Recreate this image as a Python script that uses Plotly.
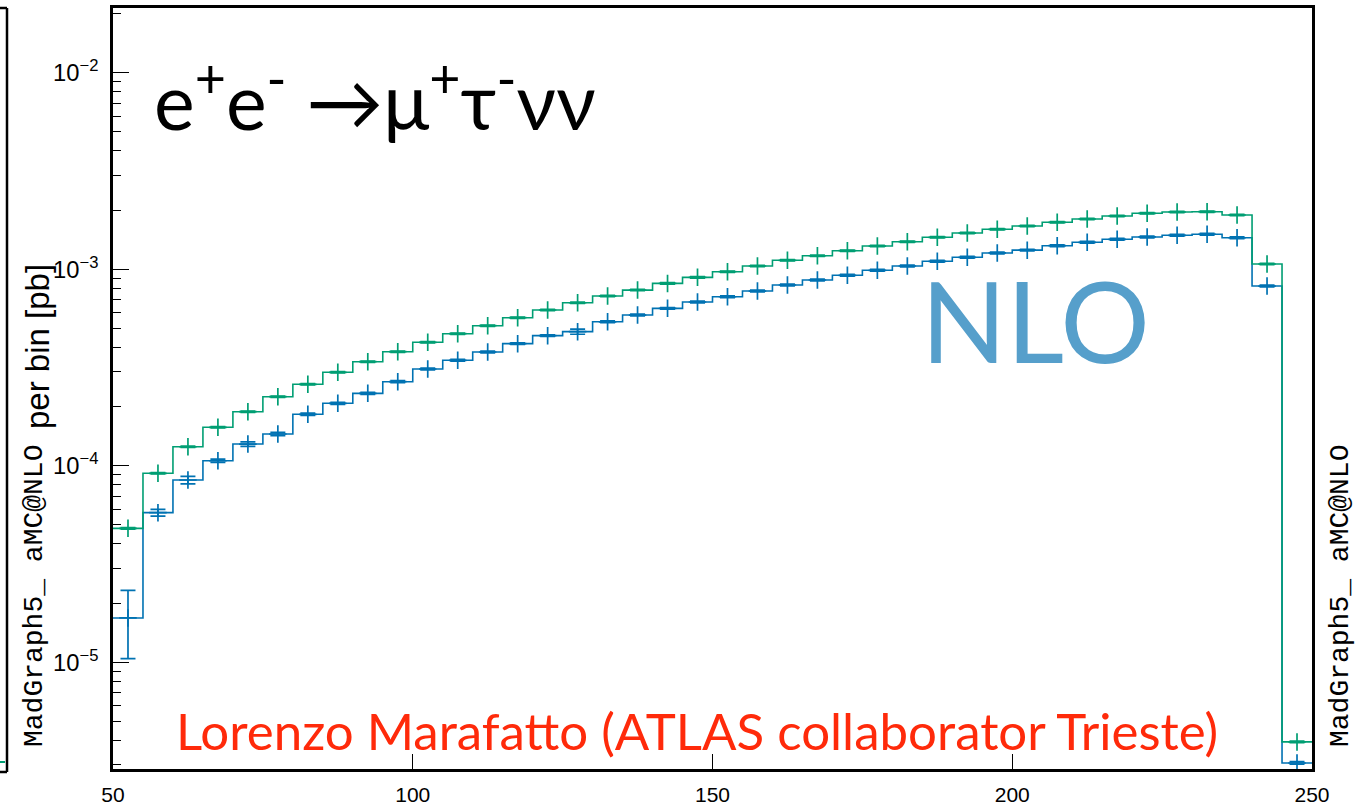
import plotly.graph_objects as go

# Histogram binning (GeV)
bin_edges = list(range(50, 255, 5))

# Cross section per bin [pb], two samples
green_vals = [4.80e-5, 9.15e-5, 1.249e-4, 1.568e-4, 1.883e-4, 2.245e-4, 2.596e-4, 2.987e-4,
              3.382e-4, 3.803e-4, 4.246e-4, 4.696e-4, 5.159e-4, 5.665e-4, 6.20e-4, 6.75e-4,
              7.30e-4, 7.83e-4, 8.47e-4, 9.09e-4, 9.71e-4, 1.038e-3, 1.110e-3, 1.171e-3,
              1.242e-3, 1.312e-3, 1.380e-3, 1.453e-3, 1.528e-3, 1.596e-3, 1.659e-3, 1.733e-3,
              1.801e-3, 1.865e-3, 1.925e-3, 1.955e-3, 1.962e-3, 1.887e-3, 1.063e-3, 3.93e-6]
blue_vals = [1.68e-5, 5.77e-5, 8.46e-5, 1.060e-4, 1.289e-4, 1.450e-4, 1.826e-4, 2.078e-4,
             2.335e-4, 2.676e-4, 3.105e-4, 3.438e-4, 3.79e-4, 4.18e-4, 4.59e-4, 4.81e-4,
             5.40e-4, 5.845e-4, 6.32e-4, 6.81e-4, 7.24e-4, 7.74e-4, 8.31e-4, 8.81e-4,
             9.31e-4, 9.87e-4, 1.038e-3, 1.097e-3, 1.150e-3, 1.21e-3, 1.25e-3, 1.317e-3,
             1.371e-3, 1.420e-3, 1.459e-3, 1.488e-3, 1.506e-3, 1.446e-3, 8.21e-4, 3.07e-6]

# Relative statistical uncertainties [%]
green_err_pct = [1.0, 0.8, 0.8, 0.8, 0.8, 0.8, 0.8, 0.8, 0.8, 0.8,
                 0.8, 0.8, 0.8, 0.8, 0.8, 0.8, 0.8, 0.8, 0.8, 0.8,
                 0.8, 0.8, 0.8, 0.8, 0.8, 0.8, 0.8, 0.8, 0.8, 0.8,
                 0.8, 0.8, 0.8, 0.8, 0.8, 0.8, 0.8, 0.8, 0.8, 1.0]
blue_err_pct = [38.0, 3.9, 4.4, 1.8, 2.6, 1.8, 1.4, 1.2, 1.2, 1.2,
                1.0, 1.0, 1.0, 1.0, 1.0, 3.0, 1.0, 1.0, 1.0, 1.0,
                1.0, 1.0, 1.0, 1.0, 1.0, 1.0, 1.0, 1.0, 1.0, 1.0,
                1.0, 1.0, 1.0, 1.0, 1.0, 1.0, 1.0, 1.0, 1.0, 1.5]

x_tick_vals = [50, 100, 150, 200, 250]

GREEN = "#009E73"
BLUE = "#0072B2"
SANS = "Liberation Sans, Arial, sans-serif"

W, H = 1358, 809
L, R, T, B = 113, 46, 8, 40
PW, PH = W - L - R, H - T - B


def px(xp):
    return (xp - L) / PW


def py(yp):
    return (H - B - yp) / PH


centers = [(lo + hi) / 2 for lo, hi in zip(bin_edges[:-1], bin_edges[1:])]

fig = go.Figure()


def add_hist(vals, errs, color):
    fig.add_trace(go.Scatter(
        x=bin_edges, y=vals + [vals[-1]], mode="lines", line_shape="hv",
        line=dict(color=color, width=1.6), hoverinfo="skip", showlegend=False))
    fig.add_trace(go.Scatter(
        x=centers, y=vals, mode="markers",
        marker=dict(symbol="cross-thin", size=12.5, line=dict(color=color, width=1.7)),
        error_y=dict(type="data", array=[v * e / 100 for v, e in zip(vals, errs)],
                     color=color, thickness=1.7, width=7.5),
        showlegend=False))


add_hist(blue_vals, blue_err_pct, BLUE)
add_hist(green_vals, green_err_pct, GREEN)

fig.update_xaxes(
    range=[50, 250], tickvals=x_tick_vals, ticktext=[str(v) for v in x_tick_vals],
    ticks="inside", ticklen=15, tickwidth=1.2, automargin=False,
    tickcolor="black", showline=True, linecolor="black", linewidth=2.5, mirror=True,
    showgrid=False, zeroline=False, ticklabelstandoff=5,
    tickfont=dict(family=SANS, size=21, color="black"))

fig.update_yaxes(
    type="log", range=[-5.5435, -1.6707], dtick=1, exponentformat="power",
    ticks="inside", ticklen=16, tickwidth=1.2, tickcolor="black", automargin=False,
    minor=dict(ticks="inside", ticklen=8, tickcolor="black", dtick="D1", showgrid=False),
    showline=True, linecolor="black", linewidth=2.5, mirror=True,
    showgrid=False, zeroline=False, ticklabelstandoff=8,
    tickfont=dict(family=SANS, size=19, color="black"))

annotations = [
    dict(text="e<sup>+</sup>e<sup>-</sup> →μ<sup>+</sup>τ<sup>-</sup>νν",
         x=px(152), y=py(95), xanchor="left", yanchor="middle",
         font=dict(family="Lato", size=77, color="black")),
    dict(text="NLO", x=px(1035), y=py(320), xanchor="center", yanchor="middle",
         font=dict(family="Lato", size=112, color="#569FCB")),
    dict(text="Lorenzo Marafatto (ATLAS collaborator Trieste)",
         x=px(697), y=py(730), xanchor="center", yanchor="middle",
         font=dict(family="Lato", size=51, color="#FF2A0A")),
    dict(text="MadGraph5_ aMC@NLO", x=px(34), y=py(596), textangle=-90,
         xanchor="center", yanchor="middle",
         font=dict(family="Liberation Mono", size=28, color="black")),
    dict(text="per bin [pb]", x=px(37), y=py(347), textangle=-90,
         xanchor="center", yanchor="middle",
         font=dict(family=SANS, size=33, color="black")),
    dict(text="MadGraph5_ aMC@NLO", x=px(1340), y=py(596), textangle=-90,
         xanchor="center", yanchor="middle",
         font=dict(family="Liberation Mono", size=28, color="black")),
]
for a in annotations:
    a.update(xref="paper", yref="paper", showarrow=False)

# Edge of the neighbouring panel frame on the left
frame = dict(type="line", xref="paper", yref="paper", line=dict(color="black", width=2.5))
shapes = [
    dict(frame, x0=px(7), x1=px(7), y0=py(8), y1=py(772)),
    dict(frame, x0=px(0), x1=px(7), y0=py(8), y1=py(8)),
    dict(frame, x0=px(0), x1=px(7), y0=py(772), y1=py(772)),
    dict(type="line", xref="paper", yref="paper", x0=px(0), x1=px(5), y0=py(762), y1=py(762),
         line=dict(color=GREEN, width=2)),
]

fig.update_layout(
    width=W, height=H, margin=dict(l=L, r=R, t=T, b=B, autoexpand=False),
    font=dict(family=SANS, size=18, color="black"),
    paper_bgcolor="white", plot_bgcolor="white",
    annotations=annotations, shapes=shapes, showlegend=False)

fig.write_html("out.html")
